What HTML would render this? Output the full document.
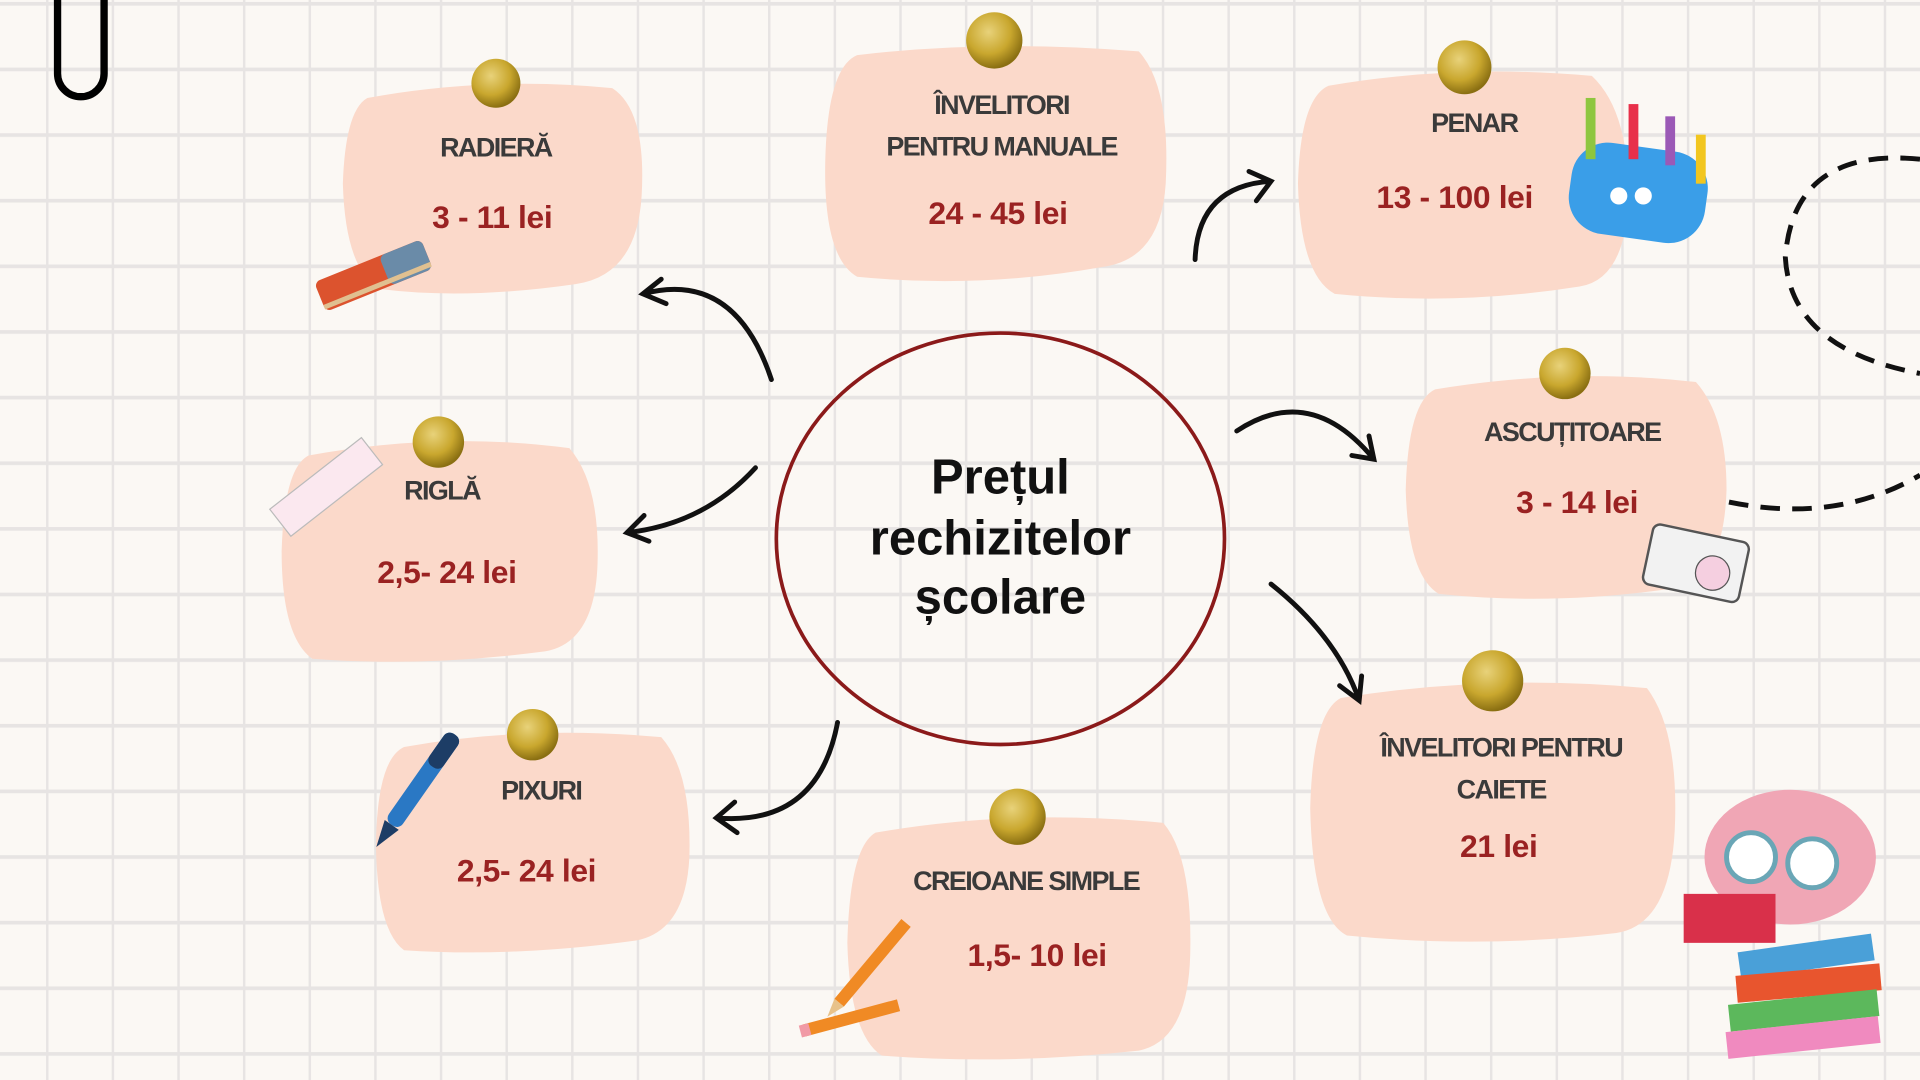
<!DOCTYPE html>
<html><head><meta charset="utf-8"><style>
html,body{margin:0;padding:0;background:#fbf8f4;}
svg{display:block;}
text{font-family:"Liberation Sans",sans-serif;font-weight:bold;text-anchor:middle;}
.t{fill:#3a3a3a;font-size:22px;letter-spacing:-1.3px;}
.p{fill:#9a2222;font-size:26px;letter-spacing:-0.3px;}
.b{fill:#fbd9ca;}
.a{fill:none;stroke:#111;stroke-width:4;stroke-linecap:round;}
</style></head><body>
<svg width="1920" height="1080" viewBox="0 0 1568 882" xmlns="http://www.w3.org/2000/svg">
<defs>
<pattern id="g" x="37.6" y="1.6" width="53.6" height="53.6" patternUnits="userSpaceOnUse">
<rect x="0" y="0" width="53.6" height="53.6" fill="#fbf8f4"/>
<rect x="0" y="0" width="2" height="53.6" fill="#e7e4e3"/>
<rect x="0" y="0" width="53.6" height="3" fill="#e7e4e3"/>
</pattern>
<marker id="m" viewBox="0 0 20 20" refX="14" refY="10" markerWidth="8" markerHeight="8" orient="auto" markerUnits="userSpaceOnUse">
</marker>
<radialGradient id="pin" cx="40%" cy="35%" r="65%"><stop offset="0" stop-color="#e8d27a"/><stop offset="0.6" stop-color="#c9a72e"/><stop offset="1" stop-color="#8a6f12"/></radialGradient>
</defs>
<rect width="1568" height="882" fill="url(#g)"/>
<path d="M47 0 V60 A19 19 0 0 0 85 60 V0" fill="none" stroke="#000" stroke-width="6"/>

<!-- blobs -->
<path class="b" d="M300 80 Q400 62 500 72 Q528 90 524 160 Q520 225 470 232 Q380 245 310 236 Q282 220 280 150 Q282 90 300 80Z"/>
<path class="b" d="M700 45 Q810 32 930 42 Q956 70 952 150 Q948 212 900 218 Q800 236 700 226 Q672 210 674 130 Q676 55 700 45Z"/>
<path class="b" d="M1085 70 Q1190 52 1300 62 Q1330 90 1330 160 Q1328 228 1290 234 Q1190 250 1090 240 Q1062 225 1060 150 Q1062 80 1085 70Z"/>
<path class="b" d="M1172 318 Q1280 300 1385 312 Q1410 340 1410 400 Q1408 470 1370 480 Q1270 495 1175 485 Q1150 470 1148 400 Q1150 328 1172 318Z"/>
<path class="b" d="M1095 570 Q1220 550 1345 562 Q1370 595 1368 670 Q1366 755 1320 762 Q1210 775 1100 764 Q1072 750 1070 660 Q1072 582 1095 570Z"/>
<path class="b" d="M715 680 Q830 660 950 672 Q974 700 972 780 Q970 850 930 858 Q820 870 720 862 Q694 845 692 770 Q694 692 715 680Z"/>
<path class="b" d="M330 610 Q430 592 540 602 Q565 630 563 700 Q560 760 520 768 Q420 782 330 776 Q308 760 307 690 Q308 620 330 610Z"/>
<path class="b" d="M252 372 Q360 352 465 366 Q490 395 488 460 Q486 525 445 532 Q345 545 255 538 Q230 520 230 450 Q232 382 252 372Z"/>

<!-- pins -->
<circle cx="405" cy="68" r="20" fill="url(#pin)"/>
<circle cx="812" cy="33" r="23" fill="url(#pin)"/>
<circle cx="1196" cy="55" r="22" fill="url(#pin)"/>
<circle cx="1278" cy="305" r="21" fill="url(#pin)"/>
<circle cx="1219" cy="556" r="25" fill="url(#pin)"/>
<circle cx="831" cy="667" r="23" fill="url(#pin)"/>
<circle cx="435" cy="600" r="21" fill="url(#pin)"/>
<circle cx="358" cy="361" r="21" fill="url(#pin)"/>

<!-- texts -->
<text class="t" x="405" y="128">RADIERĂ</text>
<text class="p" x="402" y="186">3 - 11 lei</text>
<text class="t" x="818" y="93">ÎNVELITORI</text>
<text class="t" x="818" y="127">PENTRU MANUALE</text>
<text class="p" x="815" y="183">24 - 45 lei</text>
<text class="t" x="1204" y="108">PENAR</text>
<text class="p" x="1188" y="170">13 - 100 lei</text>
<text class="t" x="1284" y="360">ASCUȚITOARE</text>
<text class="p" x="1288" y="419">3 - 14 lei</text>
<text class="t" x="1226" y="618">ÎNVELITORI PENTRU</text>
<text class="t" x="1226" y="652">CAIETE</text>
<text class="p" x="1224" y="700">21 lei</text>
<text class="t" x="838" y="727">CREIOANE SIMPLE</text>
<text class="p" x="847" y="789">1,5- 10 lei</text>
<text class="t" x="442" y="653">PIXURI</text>
<text class="p" x="430" y="720">2,5- 24 lei</text>
<text class="t" x="361" y="408">RIGLĂ</text>
<text class="p" x="365" y="476">2,5- 24 lei</text>

<!-- center -->
<ellipse cx="817" cy="440" rx="183" ry="168" fill="none" stroke="#8b1a1a" stroke-width="3"/>
<text x="817" y="403" style="font-size:40px;fill:#111">Prețul</text>
<text x="817" y="453" style="font-size:40px;fill:#111">rechizitelor</text>
<text x="817" y="501" style="font-size:40px;fill:#111">școlare</text>

<!-- arrows -->
<path class="a" d="M630 310 Q600 220 525 240 M540 228 L525 240 L544 248"/>
<path class="a" d="M617 382 Q575 428 512 435 M526 421 L512 435 L530 442"/>
<path class="a" d="M684 590 Q668 675 585 668 M600 655 L585 668 L602 680"/>
<path class="a" d="M976 212 Q978 152 1038 148 M1020 140 L1038 148 L1026 164"/>
<path class="a" d="M1010 352 Q1070 312 1122 375 M1104 372 L1122 375 L1118 356"/>
<path class="a" d="M1038 477 Q1092 520 1110 572 M1094 560 L1110 572 L1112 552"/>

<!-- dashed decorations -->
<path d="M1568 130 Q1465 120 1458 210 Q1462 285 1568 305" fill="none" stroke="#111" stroke-width="4" stroke-dasharray="16 10"/>
<path d="M1412 410 Q1500 428 1568 388" fill="none" stroke="#111" stroke-width="4" stroke-dasharray="16 10"/>

<!-- eraser -->
<g transform="rotate(-22 305 225)">
<rect x="258" y="212" width="94" height="26" rx="5" fill="#dc532e"/>
<rect x="315" y="212" width="37" height="26" rx="5" fill="#6a8ba8"/>
<rect x="258" y="232" width="94" height="4" fill="#e0c090"/>
</g>
<!-- ruler -->
<g transform="rotate(-38 265 400)">
<rect x="220" y="385" width="95" height="28" fill="#fbe8ef" stroke="#bbb"/>
</g>
<!-- pen -->
<g transform="rotate(35 340 645)">
<rect x="333" y="590" width="14" height="90" rx="6" fill="#2a78c4"/>
<rect x="333" y="590" width="14" height="32" rx="6" fill="#1d3d66"/>
<polygon points="333,680 347,680 340,702" fill="#1d3d66"/>
</g>
<!-- pencils -->
<g transform="rotate(-50 715 785)"><rect x="670" y="779" width="85" height="10" fill="#f08a24"/><polygon points="670,779 670,789 655,784" fill="#e8c28a"/></g>
<g transform="rotate(-15 700 830)"><rect x="655" y="825" width="80" height="10" fill="#f08a24"/><rect x="652" y="825" width="8" height="10" fill="#f19aa6"/></g>
<!-- pencil case -->
<rect x="1282" y="120" width="112" height="75" rx="30" fill="#3a9ee8" transform="rotate(8 1338 157)"/>
<rect x="1295" y="80" width="8" height="50" fill="#8ec63f"/><rect x="1330" y="85" width="8" height="45" fill="#e8304a"/><rect x="1360" y="95" width="8" height="40" fill="#9b59b6"/><rect x="1385" y="110" width="8" height="40" fill="#f2c61f"/>
<circle cx="1322" cy="160" r="7" fill="#fff"/><circle cx="1342" cy="160" r="7" fill="#fff"/>
<!-- sharpener -->
<g transform="rotate(12 1385 460)"><rect x="1345" y="435" width="80" height="50" rx="6" fill="#f2f2f2" stroke="#555" stroke-width="2"/><circle cx="1400" cy="465" r="14" fill="#f5cfe0" stroke="#555"/></g>
<!-- brain -->
<ellipse cx="1462" cy="700" rx="70" ry="55" fill="#f0a6b5"/>
<circle cx="1430" cy="700" r="20" fill="#fff" stroke="#6aa6b6" stroke-width="4"/><circle cx="1480" cy="705" r="20" fill="#fff" stroke="#6aa6b6" stroke-width="4"/>
<rect x="1375" y="730" width="75" height="40" fill="#d9304a"/>
<rect x="1420" y="770" width="110" height="22" fill="#4aa0d8" transform="rotate(-8 1475 781)"/>
<rect x="1418" y="792" width="118" height="22" fill="#e8552e" transform="rotate(-5 1475 803)"/>
<rect x="1412" y="814" width="122" height="22" fill="#5cb85c" transform="rotate(-6 1475 825)"/>
<rect x="1410" y="836" width="125" height="22" fill="#f08abf" transform="rotate(-6 1475 847)"/>
</svg>
</body></html>
